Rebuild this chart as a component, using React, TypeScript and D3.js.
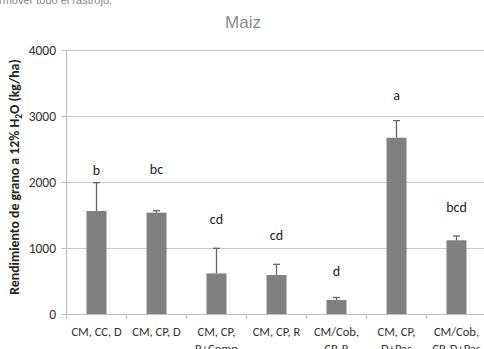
import React from "react";
import * as d3 from "d3";

const categories: string[][] = [
  ["CM, CC, D"],
  ["CM, CP, D"],
  ["CM, CP,", "R+Comp"],
  ["CM, CP, R"],
  ["CM/Cob,", "CP, R"],
  ["CM, CP,", "D+Pas"],
  ["CM/Cob,", "CP, D+Pas"],
];
const yields = [1560, 1535, 615, 590, 212, 2670, 1117];
const errorTops = [1990, 1565, 995, 753, 250, 2930, 1182];
const letters = ["b", "bc", "cd", "cd", "d", "a", "bcd"];
const letterHeights = [2182, 2197, 1439, 1197, 652, 3318, 1626];
const yTicks = [0, 1000, 2000, 3000, 4000];

export default function App() {
  const W = 484, H = 349;
  const x0 = 66.5, x1 = 66.5 + 60 * 7;
  const x = d3.scaleBand<number>().domain(d3.range(7)).range([x0, x1]).paddingInner(0).paddingOuter(0);
  const y = d3.scaleLinear().domain([0, 4000]).range([314, 50]);
  const bw = 20;
  const font = "Carlito, Lato, 'Open Sans', sans-serif";
  return (
    <svg width={W} height={H} style={{ position: "absolute", left: 0, top: 0, background: "#fff" }}>
      <text x={-1} y={4} fontSize={11} fill="#888" fontFamily="'Liberation Sans', Arial, sans-serif">
        rmover todo el rastrojo.
      </text>
      <text x={243} y={28} textAnchor="middle" fontSize={17} fill="#8a8a8a" fontFamily="'Liberation Sans', Arial, sans-serif">
        Maiz
      </text>
      {yTicks.map((t) => (
        <g key={t}>
          {t > 0 && <line x1={x0} x2={W} y1={y(t) + 0.5} y2={y(t) + 0.5} stroke="#c8c8c8" strokeWidth={1} />}
          <line x1={x0 - 5} x2={x0} y1={Math.round(y(t)) + 0.5} y2={Math.round(y(t)) + 0.5} stroke="#bdbdbd" />
          <text x={56} y={y(t) + 5} textAnchor="end" fontSize={13.5} fill="#333" fontFamily={font}>
            {t}
          </text>
        </g>
      ))}
      <line x1={x0} x2={x0} y1={50} y2={314} stroke="#bdbdbd" />
      <line x1={x0} x2={W} y1={314.5} y2={314.5} stroke="#bdbdbd" />
      {d3.range(8).map((i) => (
        <line key={i} x1={x0 + 60 * i} x2={x0 + 60 * i} y1={314} y2={319} stroke="#bdbdbd" />
      ))}
      {yields.map((v, i) => {
        const cx = (x(i) as number) + x.bandwidth() / 2;
        return (
          <g key={i}>
            <rect x={cx - bw / 2} y={y(v)} width={bw} height={y(0) - y(v)} fill="#808080" />
            <line x1={cx} x2={cx} y1={y(v)} y2={y(errorTops[i])} stroke="#666" strokeWidth={1.3} />
            <line x1={cx - 3.5} x2={cx + 3.5} y1={y(errorTops[i])} y2={y(errorTops[i])} stroke="#666" strokeWidth={1.3} />
            <text x={cx} y={y(letterHeights[i]) + 5} textAnchor="middle" fontSize={14} fill="#222" fontFamily={font}>
              {letters[i]}
            </text>
            {categories[i].map((line, j) => (
              <text key={j} x={cx} y={335.5 + j * 17} textAnchor="middle" fontSize={12.5} fill="#333" fontFamily={font}>
                {line}
              </text>
            ))}
          </g>
        );
      })}
      <text
        transform="translate(19,177) rotate(-90)"
        textAnchor="middle"
        fontSize={13.8}
        fontWeight="bold"
        fill="#222"
        fontFamily={font}
      >
        Rendimiento de grano a 12% H
        <tspan fontSize={9.5} dy={3}>2</tspan>
        <tspan dy={-3}>O (kg/ha)</tspan>
      </text>
    </svg>
  );
}
